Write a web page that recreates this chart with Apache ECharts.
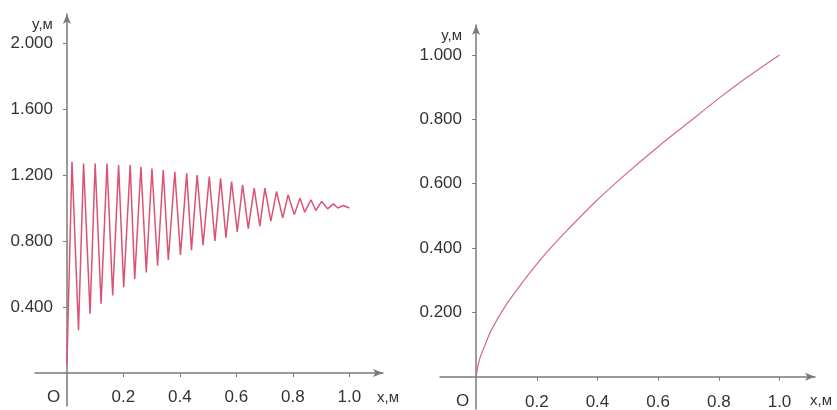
<!DOCTYPE html>
<html>
<head>
<meta charset="utf-8">
<script src="https://cdn.jsdelivr.net/npm/echarts@6/dist/echarts.min.js"></script>
<style>html,body{margin:0;padding:0;background:#fff}#c{width:837px;height:410px}</style>
</head>
<body>
<div id="c"></div>
<script>
// Left chart: oscillating line (extrema)
const leftX = [0, 0.018, 0.041, 0.059, 0.082, 0.100, 0.121, 0.142, 0.162, 0.183, 0.201, 0.224, 0.240, 0.262, 0.281, 0.301, 0.321, 0.341, 0.359, 0.382, 0.402, 0.424, 0.441, 0.461, 0.482, 0.504, 0.524, 0.544, 0.563, 0.583, 0.603, 0.622, 0.642, 0.663, 0.683, 0.701, 0.722, 0.742, 0.764, 0.783, 0.805, 0.825, 0.842, 0.864, 0.881, 0.902, 0.923, 0.943, 0.959, 0.978, 1.0];
const leftY = [0.05, 1.28, 0.26, 1.27, 0.36, 1.27, 0.42, 1.27, 0.47, 1.26, 0.52, 1.26, 0.57, 1.25, 0.61, 1.24, 0.65, 1.23, 0.685, 1.22, 0.715, 1.21, 0.745, 1.20, 0.775, 1.19, 0.80, 1.18, 0.82, 1.16, 0.855, 1.14, 0.875, 1.12, 0.89, 1.12, 0.92, 1.10, 0.94, 1.08, 0.96, 1.06, 0.975, 1.05, 0.985, 1.04, 0.995, 1.025, 1.0, 1.015, 1.0];
// Right chart: monotone curve
const rightX = [0, 0.01, 0.03, 0.05, 0.1, 0.15, 0.2, 0.25, 0.3, 0.4, 0.5, 0.6, 0.7, 0.8, 0.9, 1.0];
const rightY = [0, 0.05, 0.10, 0.145, 0.225, 0.29, 0.35, 0.405, 0.455, 0.55, 0.635, 0.715, 0.79, 0.865, 0.935, 1.0];
// Tick labels
const xTicks = [0.2, 0.4, 0.6, 0.8, 1.0];
const leftYTicks = [0.4, 0.8, 1.2, 1.6, 2.0];
const rightYTicks = [0.2, 0.4, 0.6, 0.8, 1.0];
const xName = 'x,м', yName = 'y,м', originLabel = 'O';

const FONT = 'Liberation Sans, Arial, sans-serif';
const AX = '#7a7a7a', TXT = '#333';
const FS = 17;

function xAxis(gridIndex, min, max, gap, labelMargin) {
  return {
    type: 'value', gridIndex, min, max,
    splitLine: {show: false},
    axisLine: {onZero: true, lineStyle: {color: AX, width: 1.5}, symbol: ['none', 'arrow'], symbolSize: [6, 10]},
    axisTick: {customValues: xTicks, length: 4, lineStyle: {color: AX}},
    axisLabel: {customValues: xTicks, margin: labelMargin, fontSize: FS, fontFamily: FONT, color: TXT, formatter: v => v.toFixed(1)},
    name: xName, nameLocation: 'end', nameGap: gap,
    nameTextStyle: {fontSize: 15, fontFamily: FONT, color: TXT, align: 'left', verticalAlign: 'top', padding: [17, 0, 0, 0]}
  };
}
function yAxis(gridIndex, min, max, ticks, labelMargin) {
  return {
    type: 'value', gridIndex, min, max,
    splitLine: {show: false},
    axisLine: {onZero: true, lineStyle: {color: AX, width: 1.5}, symbol: ['none', 'arrow'], symbolSize: [6, 10]},
    axisTick: {customValues: ticks, length: 4, lineStyle: {color: AX}},
    axisLabel: {customValues: ticks, margin: labelMargin, fontSize: FS, fontFamily: FONT, color: TXT, formatter: v => v.toFixed(3)},
    name: yName, nameLocation: 'end', nameGap: -11,
    nameTextStyle: {fontSize: 15, fontFamily: FONT, color: TXT, align: 'right', verticalAlign: 'middle', padding: [0, 14, 0, 0]}
  };
}

const chart = echarts.init(document.getElementById('c'), null, {renderer: 'canvas'});
chart.setOption({
  animation: false,
  backgroundColor: '#fff',
  grid: [
    {left: 35, width: 348, top: 14, height: 392, containLabel: false, outerBoundsMode: 'none'},
    {left: 440, width: 375, top: 25, height: 384, containLabel: false, outerBoundsMode: 'none'}
  ],
  xAxis: [xAxis(0, -0.113, 1.119, -6, -17), xAxis(1, -0.119, 1.117, -5, -15)],
  yAxis: [yAxis(0, -0.2, 2.176, leftYTicks, -18), yAxis(1, -0.1, 1.093, rightYTicks, -22)],
  graphic: [
    {type: 'text', left: 47, top: 389, style: {text: originLabel, font: FS + 'px ' + FONT, fill: TXT}},
    {type: 'text', left: 456, top: 393, style: {text: originLabel, font: FS + 'px ' + FONT, fill: TXT}}
  ],
  series: [
    {type: 'line', xAxisIndex: 0, yAxisIndex: 0, showSymbol: false, data: leftX.map((x, i) => [x, leftY[i]]),
     lineStyle: {color: '#dc5274', width: 1.5}},
    {type: 'line', xAxisIndex: 1, yAxisIndex: 1, showSymbol: false, smooth: 0.3, data: rightX.map((x, i) => [x, rightY[i]]),
     lineStyle: {color: '#d56a86', width: 1.2}}
  ]
});
</script>
</body>
</html>
